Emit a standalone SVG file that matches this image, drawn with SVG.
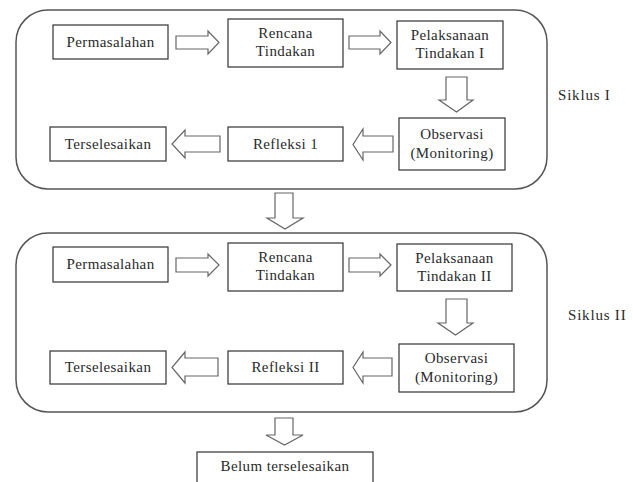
<svg xmlns="http://www.w3.org/2000/svg" width="633" height="482" viewBox="0 0 633 482">
<style>
.frame{fill:none;stroke:#555;stroke-width:1.5}
.box{fill:#fff;stroke:#333;stroke-width:1.2}
.arr{fill:#fff;stroke:#666;stroke-width:1.2;stroke-linejoin:miter}
text{font-family:"Liberation Serif","Times New Roman",serif;font-size:15px;fill:#2a2a2a;text-anchor:middle;letter-spacing:0.4px}
.lbl{text-anchor:start;letter-spacing:0.8px}
</style>
<rect width="633" height="482" fill="#fff"/>
<g id="siklus1">
<rect class="frame" x="16" y="10" width="531" height="179" rx="32" ry="32"/>
<text class="lbl" x="558" y="100">Siklus I</text>
</g>
<g id="siklus2">
<rect class="frame" x="16" y="233" width="531" height="179" rx="32" ry="32"/>
<text class="lbl" x="568" y="320">Siklus II</text>
</g>
<g id="n1"><rect class="box" x="53" y="25" width="115" height="34"/><text x="110.5" y="47">Permasalahan</text></g>
<g id="n2"><rect class="box" x="228" y="19" width="115" height="48"/><text x="285.5" y="38">Rencana</text><text x="285.5" y="56">Tindakan</text></g>
<g id="n3"><rect class="box" x="397" y="21" width="106" height="48"/><text x="450" y="40">Pelaksanaan</text><text x="450" y="58">Tindakan I</text></g>
<g id="n4"><rect class="box" x="399" y="118" width="106" height="52"/><text x="452" y="139">Observasi</text><text x="452" y="158">(Monitoring)</text></g>
<g id="n5"><rect class="box" x="228" y="127" width="115" height="34"/><text x="285.5" y="149">Refleksi 1</text></g>
<g id="n6"><rect class="box" x="50" y="127" width="116" height="34"/><text x="108" y="149">Terselesaikan</text></g>
<g id="m1"><rect class="box" x="53" y="247" width="115" height="35"/><text x="110.5" y="269">Permasalahan</text></g>
<g id="m2"><rect class="box" x="228" y="243" width="115" height="48"/><text x="285.5" y="262">Rencana</text><text x="285.5" y="280">Tindakan</text></g>
<g id="m3"><rect class="box" x="397" y="244" width="115" height="47"/><text x="454.5" y="263">Pelaksanaan</text><text x="454.5" y="281">Tindakan II</text></g>
<g id="m4"><rect class="box" x="399" y="344" width="115" height="48"/><text x="456.5" y="363">Observasi</text><text x="456.5" y="382">(Monitoring)</text></g>
<g id="m5"><rect class="box" x="228" y="351" width="115" height="33"/><text x="285.5" y="372">Refleksi II</text></g>
<g id="m6"><rect class="box" x="50" y="351" width="116" height="33"/><text x="108" y="372">Terselesaikan</text></g>
<g id="end"><rect class="box" x="197" y="452" width="176" height="40"/><text x="285" y="471">Belum terselesaikan</text></g>
<g id="connectors">
<polygon class="arr" points="176,36 208,36 208,31 219,42.5 208,54 208,49 176,49"/>
<polygon class="arr" points="349,36 380,36 380,31 391,42.5 380,54 380,49 349,49"/>
<polygon class="arr" points="446,77 467,77 467,100 473,100 456.5,112 439,100 446,100"/>
<polygon class="arr" points="393,136 363,136 363,129 353,144.5 363,160 363,152 393,152"/>
<polygon class="arr" points="220,136 185,136 185,130 172,144 185,158 185,152 220,152"/>
<polygon class="arr" points="275,193 293,193 293,218 303,218 285,229 267,218 275,218"/>
<polygon class="arr" points="176,258 208,258 208,254 219,265 208,276 208,272 176,272"/>
<polygon class="arr" points="349,258 380,258 380,254 391,265 380,276 380,272 349,272"/>
<polygon class="arr" points="446,299 467,299 467,323 473,323 455.5,335 438,323 446,323"/>
<polygon class="arr" points="392,358 363,358 363,352 353,367.5 363,383 363,376 392,376"/>
<polygon class="arr" points="218,358 185,358 185,352 172,367.5 185,383 185,376 218,376"/>
<polygon class="arr" points="275,418 293,418 293,435 303,435 284.5,445 266,435 275,435"/>
</g>
</svg>
